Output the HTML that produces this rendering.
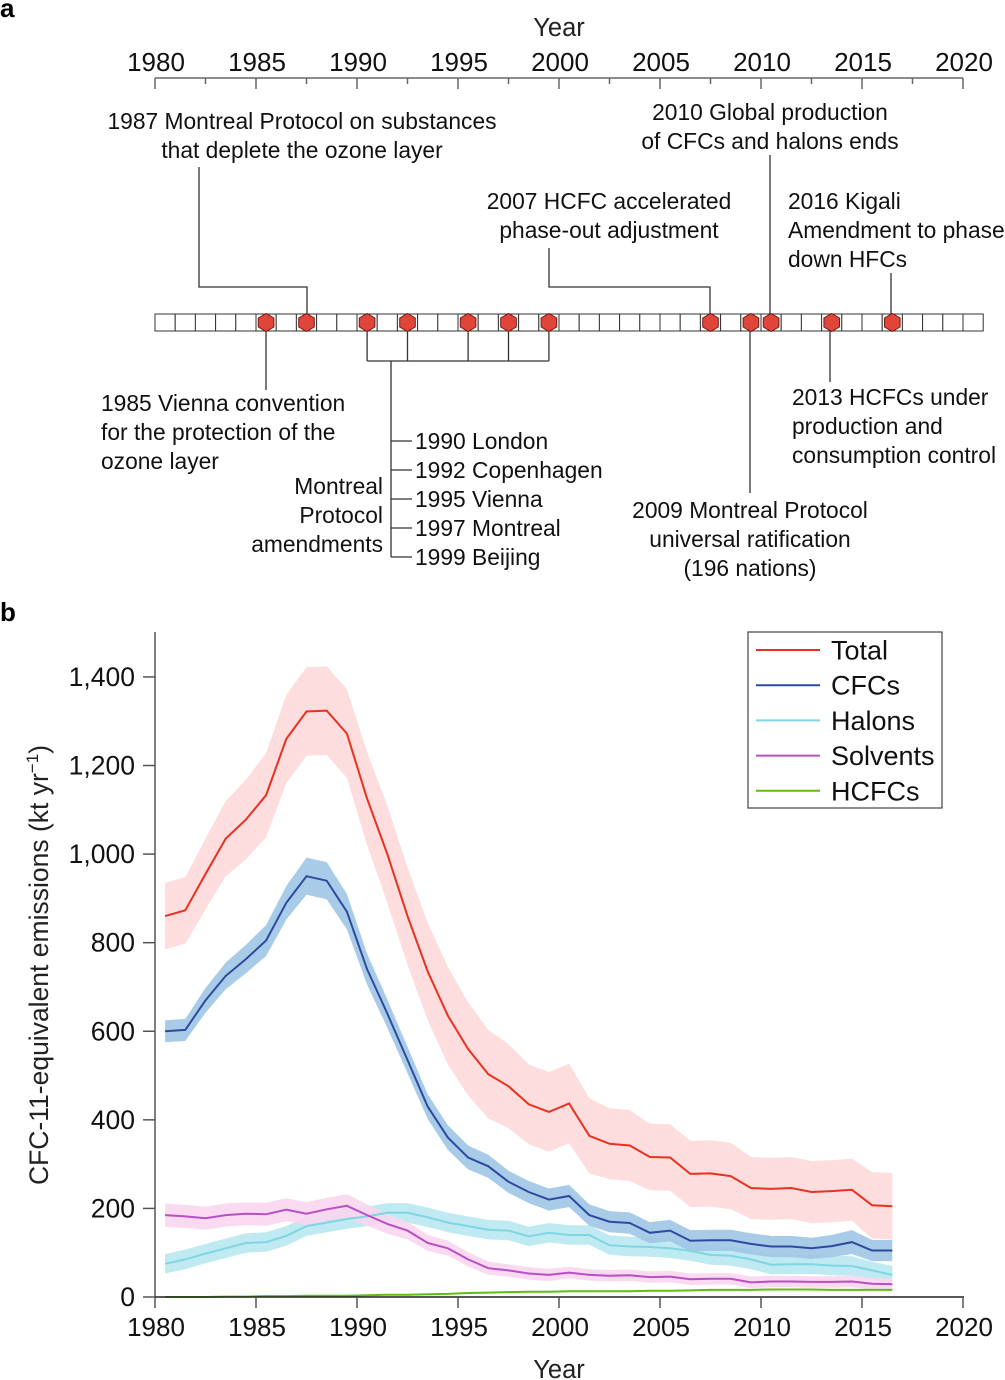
<!DOCTYPE html>
<html><head><meta charset="utf-8"><style>
html,body{margin:0;padding:0;background:#fff;}
svg{display:block;font-family:"Liberation Sans",Arial,sans-serif;}
</style></head><body>
<svg id="fig" width="1005" height="1380" viewBox="0 0 1005 1380">
<g id="panelA"></g>
<g id="panelB"></g>
</svg>
<script>
const years = [1980.5,1981.5,1982.5,1983.5,1984.5,1985.5,1986.5,1987.5,1988.5,1989.5,1990.5,1991.5,1992.5,1993.5,1994.5,1995.5,1996.5,1997.5,1998.5,1999.5,2000.5,2001.5,2002.5,2003.5,2004.5,2005.5,2006.5,2007.5,2008.5,2009.5,2010.5,2011.5,2012.5,2013.5,2014.5,2015.5,2016.5];
const totalVals = [860,873,955,1035,1078,1133,1260,1322,1324,1272,1125,1000,860,735,635,560,503,476,435,418,437,364,346,342,316,315,278,279,273,246,244,246,237,239,242,207,205];
const totalUnc = [75,75,80,85,90,95,100,100,100,100,105,110,110,110,110,105,100,95,90,90,90,85,80,80,75,75,75,75,75,70,70,70,70,70,70,75,75];
const cfcVals = [600,603,670,725,763,805,890,950,940,870,740,640,535,430,360,315,295,260,237,220,228,185,170,167,145,150,127,128,128,120,114,114,110,115,124,105,105];
const cfcUnc = [25,25,28,30,32,35,38,42,42,40,35,32,30,28,28,27,26,25,25,25,25,24,24,24,24,24,24,24,24,24,24,24,24,25,27,24,24];
const halonVals = [75,85,98,110,122,124,138,160,168,176,182,190,190,180,168,160,152,150,137,145,140,140,117,114,113,110,104,95,93,85,73,74,74,71,70,60,50];
const halonUnc = [22,22,22,22,22,22,22,22,22,22,22,22,22,22,22,22,22,22,22,22,22,22,22,22,22,22,22,22,22,22,22,22,22,22,22,20,20];
const solventVals = [185,182,178,185,188,187,197,188,198,206,185,165,150,122,110,85,65,60,53,50,55,50,48,49,45,46,40,41,41,33,35,35,34,34,35,30,29];
const solventUnc = [26,26,26,26,26,26,26,26,26,26,24,22,20,18,17,16,15,14,14,14,13,13,13,13,13,13,13,13,13,13,13,13,13,13,13,13,13];
const hcfcVals = [0,0,0,1,1,2,2,3,3,3,4,5,5,6,7,9,10,11,12,12,13,13,13,13,14,14,15,16,16,16,17,17,17,16,16,16,16];
const xTicks = [1980,1985,1990,1995,2000,2005,2010,2015,2020];
const yTicks = [0,200,400,600,800,1000,1200,1400];
const yTickLabels = ["0","200","400","600","800","1,000","1,200","1,400"];
const eventYears = [1985,1987,1990,1992,1995,1997,1999,2007,2009,2010,2013,2016];

const NS="http://www.w3.org/2000/svg";
function mk(parent,tag,attrs,text){const e=document.createElementNS(NS,tag);for(const k in attrs)e.setAttribute(k,attrs[k]);if(text!==undefined)e.textContent=text;parent.appendChild(e);return e;}
const X=y=>155+(y-1980)*20.2;
const Y=v=>1297-v*0.4429;

// ---------- Panel a ----------
const A=document.getElementById('panelA');
let t=mk(A,'text',{x:0,y:17,'font-size':26,'font-weight':'bold'},'a');

t=mk(A,'text',{x:559,y:36,'font-size':25.5,'text-anchor':'middle',fill:'#222'},'Year');

let l=mk(A,'line',{x1:155,y1:78,x2:963,y2:78,stroke:'#666','stroke-width':1.5});

for(let yr=1980;yr<=2020;yr+=2.5){
  const major=(yr%5===0);
  l=mk(A,'line',{x1:X(yr),y1:78,x2:X(yr),y2:major?89:84,stroke:'#666','stroke-width':1.5});
  
}
xTicks.forEach(yr=>{
  const e=mk(A,'text',{x:X(yr)+1,y:71,'font-size':26,'text-anchor':'middle',fill:'#111'},String(yr));
  
});
for(let i=0;i<41;i++){
  const r=mk(A,'rect',{x:155+i*20.2,y:314,width:20.2,height:17,fill:'#fff',stroke:'#333','stroke-width':1});
  
}
const conn="#333";
function pl(pts,name){const p=mk(A,'polyline',{points:pts,fill:'none',stroke:conn,'stroke-width':1.3});}
pl("199,167 199,287 307,287 307,314","connector-1987");
pl("770,155 770,314","connector-2010");
pl("549,248 549,287 710,287 710,314","connector-2007");
pl("891,273 891,314","connector-2016");
pl("266,331 266,390","connector-1985");
pl("830,331 830,382","connector-2013");
pl("750,331 750,493","connector-2009");
[1990,1992,1995,1997,1999].forEach(yr=>pl(`${X(yr+0.5)},331 ${X(yr+0.5)},361`,"amendment-connector"));
pl(`${X(1990.5)},361 ${X(1999.5)},361`,"amendment-bracket");
pl("391,361 391,557","amendment-stem");
[441,470,499,528,557].forEach(yy=>pl(`391,${yy} 412,${yy}`,"amendment-tick"));
eventYears.forEach(yr=>{
  const cx=X(yr+0.5),cy=322.5,r=9;let pts=[];
  for(let k=0;k<6;k++){const a=Math.PI/3*k+Math.PI/6;pts.push((cx+r*Math.cos(a)).toFixed(1)+","+(cy+r*Math.sin(a)).toFixed(1));}
  const h=mk(A,'polygon',{points:pts.join(' '),fill:'#e0453a',stroke:'#7a1a14','stroke-width':1});
  
});
function txt(lines,x,y0,anchor,name){
  const g=mk(A,'g',{});
  lines.forEach((s,i)=>mk(g,'text',{x:x,y:y0+i*29,'font-size':22.8,'text-anchor':anchor,fill:'#111'},s));
}
txt(["1987 Montreal Protocol on substances","that deplete the ozone layer"],302,129,'middle','annotation-1987');
txt(["2010 Global production","of CFCs and halons ends"],770,120,'middle','annotation-2010');
txt(["2007 HCFC accelerated","phase-out adjustment"],609,209,'middle','annotation-2007');
txt(["2016 Kigali","Amendment to phase","down HFCs"],788,209,'start','annotation-2016');
txt(["1985 Vienna convention","for the protection of the","ozone layer"],101,411,'start','annotation-1985');
txt(["1990 London","1992 Copenhagen","1995 Vienna","1997 Montreal","1999 Beijing"],415,449,'start','amendment-list');
txt(["Montreal","Protocol","amendments"],383,494,'end','annotation-amendments');
txt(["2013 HCFCs under","production and","consumption control"],792,405,'start','annotation-2013');
txt(["2009 Montreal Protocol","universal ratification","(196 nations)"],750,518,'middle','annotation-2009');

// ---------- Panel b ----------
const B=document.getElementById('panelB');
t=mk(B,'text',{x:0,y:621,'font-size':26,'font-weight':'bold'},'b');

const series=[
 {name:'total',vals:totalVals,unc:totalUnc,line:'#e8321f',band:'#fdd9da'},
 {name:'halons',vals:halonVals,unc:halonUnc,line:'#7fd6e2',band:'#b8e8f0'},
 {name:'solvents',vals:solventVals,unc:solventUnc,line:'#b84fc4',band:'#f9d6f0'},
 {name:'cfcs',vals:cfcVals,unc:cfcUnc,line:'#2e4aa0',band:'#9fc7e6'},
 {name:'hcfcs',vals:hcfcVals,unc:null,line:'#5cbf14',band:null}
];
series.forEach(s=>{
  if(!s.unc)return;
  const up=years.map((yr,i)=>X(yr).toFixed(1)+","+Y(s.vals[i]+s.unc[i]).toFixed(1));
  const lo=years.map((yr,i)=>X(yr).toFixed(1)+","+Y(Math.max(0,s.vals[i]-s.unc[i])).toFixed(1)).reverse();
  const p=mk(B,'polygon',{points:up.concat(lo).join(' '),fill:s.band,opacity:0.9});
  
});
series.forEach(s=>{
  const pts=years.map((yr,i)=>X(yr).toFixed(1)+","+Y(s.vals[i]).toFixed(1)).join(' ');
  const p=mk(B,'polyline',{points:pts,fill:'none',stroke:s.line,'stroke-width':2});
  
});
l=mk(B,'line',{x1:155,y1:632,x2:155,y2:1298,stroke:'#555','stroke-width':1.5});

l=mk(B,'line',{x1:155,y1:1297,x2:964,y2:1297,stroke:'#222','stroke-width':1.5});

yTicks.forEach((v,i)=>{
  const tk=mk(B,'line',{x1:143,y1:Y(v),x2:155,y2:Y(v),stroke:'#555','stroke-width':1.5});
  
  const e=mk(B,'text',{x:135,y:Y(v)+9,'font-size':26.5,'text-anchor':'end',fill:'#111'},yTickLabels[i]);
  
});
xTicks.forEach(yr=>{
  const tk=mk(B,'line',{x1:X(yr),y1:1297,x2:X(yr),y2:1308,stroke:'#555','stroke-width':1.5});
  
  const e=mk(B,'text',{x:X(yr)+1,y:1336,'font-size':26,'text-anchor':'middle',fill:'#111'},String(yr));
  
});
t=mk(B,'text',{x:559,y:1378,'font-size':25.5,'text-anchor':'middle',fill:'#222'},'Year');

t=mk(B,'text',{x:0,y:0,'font-size':26.5,'text-anchor':'middle',fill:'#222',transform:'translate(48,965) rotate(-90)'});

t.appendChild(document.createTextNode('CFC-11-equivalent emissions (kt yr'));
mk(t,'tspan',{dy:-10,'font-size':17},'−1');
mk(t,'tspan',{dy:10},')');
const L=mk(B,'g',{});

mk(L,'rect',{x:748,y:632,width:194,height:176,fill:'#fff',stroke:'#444','stroke-width':1.2});
const legNames=['Total','CFCs','Halons','Solvents','HCFCs'];
const legColors=['#e8321f','#2e4aa0','#7fd6e2','#b84fc4','#5cbf14'];
legNames.forEach((n,i)=>{
  const g=mk(L,'g',{});
  
  
  const yy=650+i*35.2;
  mk(g,'line',{x1:756,y1:yy,x2:820,y2:yy,stroke:legColors[i],'stroke-width':2});
  mk(g,'text',{x:831,y:yy+9.5,'font-size':27,fill:'#111'},n);
});
</script>
</body></html>
